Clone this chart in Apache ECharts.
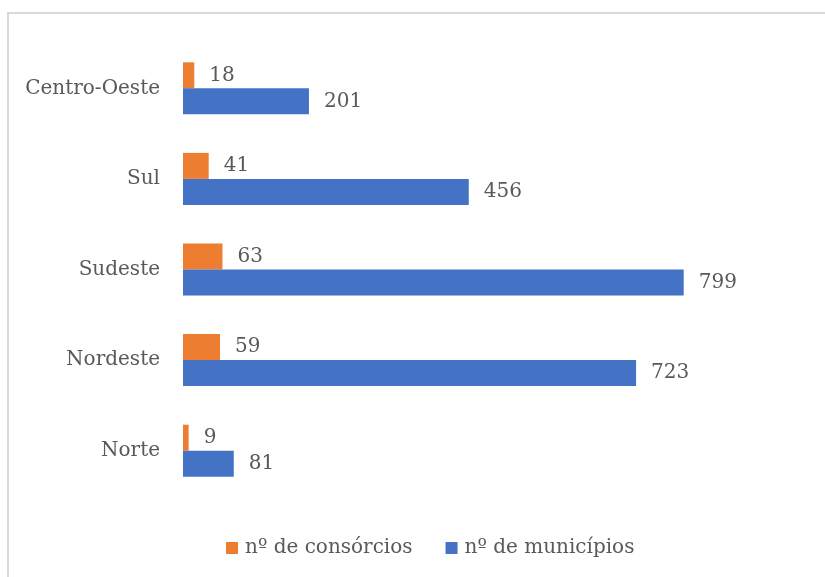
<!DOCTYPE html>
<html><head><meta charset="utf-8">
<script src="https://cdn.jsdelivr.net/npm/echarts@6/dist/echarts.min.js"></script>
<style>html,body{margin:0;padding:0;background:#fff}#c{width:825px;height:577px}</style>
</head><body><div id="c"></div>
<script>
const categories = ['Norte', 'Nordeste', 'Sudeste', 'Sul', 'Centro-Oeste'];
const consorcios = [9, 59, 63, 41, 18];
const municipios = [81, 723, 799, 456, 201];
const seriesNames = ['nº de consórcios', 'nº de municípios'];

const FONT = 'DejaVu Serif';
const TXT = '#595959';
const chart = echarts.init(document.getElementById('c'));
const lbl = {show: true, position: 'right', distance: 15, fontFamily: FONT, fontSize: 20, color: TXT};
chart.setOption({
  animation: false,
  graphic: [{type: 'rect', shape: {x: 8, y: 13, width: 840, height: 600}, style: {fill: 'none', stroke: '#d9d9d9', lineWidth: 2}, silent: true}],
  grid: {left: 183, right: 78, top: 43, bottom: 81},
  legend: {
    data: seriesNames, bottom: 14, left: 221, icon: 'rect', itemWidth: 12, itemHeight: 12, itemGap: 33,
    textStyle: {fontFamily: FONT, fontSize: 20, color: TXT, padding: [0, 0, 0, 2]}
  },
  xAxis: {type: 'value', min: 0, max: 900, show: false},
  yAxis: {
    type: 'category', data: categories,
    axisLine: {show: false}, axisTick: {show: false},
    axisLabel: {margin: 23, fontFamily: FONT, fontSize: 20, color: TXT}
  },
  series: [
    {name: seriesNames[0], type: 'bar', data: consorcios, barWidth: 26, barGap: '0%', itemStyle: {color: '#ED7D31'}, label: lbl},
    {name: seriesNames[1], type: 'bar', data: municipios, barWidth: 26, barGap: '0%', itemStyle: {color: '#4472C4'}, label: lbl}
  ]
});
</script></body></html>
